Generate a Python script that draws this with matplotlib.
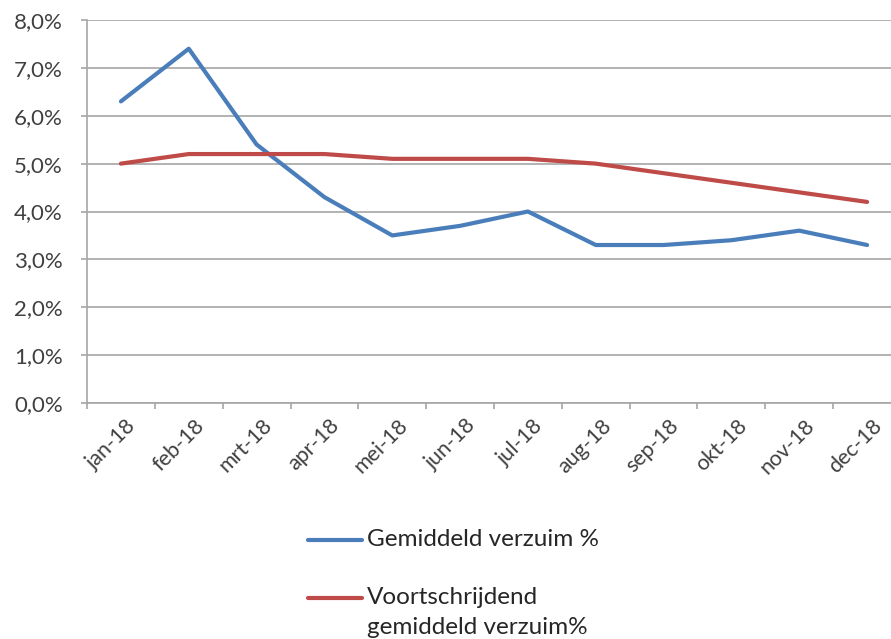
import matplotlib
matplotlib.use("Agg")
import matplotlib.pyplot as plt
from matplotlib.lines import Line2D
from matplotlib.ticker import FuncFormatter, MultipleLocator
from matplotlib.transforms import ScaledTranslation

months = ["jan-18", "feb-18", "mrt-18", "apr-18", "mei-18", "jun-18",
          "jul-18", "aug-18", "sep-18", "okt-18", "nov-18", "dec-18"]
gemiddeld = [6.3, 7.4, 5.4, 4.3, 3.5, 3.7, 4.0, 3.3, 3.3, 3.4, 3.6, 3.3]
voortschrijdend = [5.0, 5.2, 5.2, 5.2, 5.1, 5.1, 5.1, 5.0, 4.8, 4.6, 4.4, 4.2]
series_labels = ["Gemiddeld verzuim %", "Voortschrijdend\ngemiddeld verzuim%"]
series_colors = ["#4A7EBB", "#BE4B48"]

plt.rcParams["font.family"] = ["Lato", "DejaVu Sans"]
text_color = "#404040"
grid_color = "#A6A6A6"

fig = plt.figure(figsize=(8.91, 6.39), dpi=100)
W, H = 891, 639
left, right, top, bottom = 87, 901, 20, 403
ax = fig.add_axes([left / W, 1 - bottom / H, (right - left) / W, (bottom - top) / H])

x = list(range(len(months)))
lines = []
for vals, col, lab in zip([gemiddeld, voortschrijdend], series_colors, series_labels):
    ln, = ax.plot(x, vals, color=col, lw=3.0, solid_joinstyle="round",
                  solid_capstyle="round", label=lab)
    lines.append(ln)

ax.set_xlim(-0.5, len(months) - 0.5)
ax.set_ylim(0, 8)
ax.yaxis.set_major_locator(MultipleLocator(1))
ax.yaxis.set_major_formatter(FuncFormatter(lambda v, p: f"{v:.1f}%".replace(".", ",")))
ax.grid(axis="y", color=grid_color, lw=1.2)
ax.set_axisbelow(True)

# category ticks sit between the months
ax.set_xticks([i - 0.5 for i in range(len(months) + 1)], minor=False)
ax.set_xticklabels([])
ax.set_xticks(x, minor=True)
ax.set_xticklabels(months, minor=True, rotation=45, ha="right", va="top",
                   rotation_mode="anchor", fontsize=15.5, color=text_color)
ax.tick_params(axis="x", which="minor", length=0, pad=9)
ax.tick_params(axis="x", which="major", length=4.5, color=grid_color, width=1.2)
ax.tick_params(axis="y", length=4.5, color=grid_color, width=1.2, labelsize=16,
               labelcolor=text_color, pad=13)
for lab in ax.get_xticklabels(minor=True):
    lab.set_transform(lab.get_transform() + ScaledTranslation(5 / 100, 0, fig.dpi_scale_trans))

for s in ["top", "right"]:
    ax.spines[s].set_visible(False)
for s in ["left", "bottom"]:
    ax.spines[s].set_color(grid_color)
    ax.spines[s].set_linewidth(1.2)

# legend below the plot: handle aligned with the first text line of each entry
legend_rows = [540, 598]
line_step = 29
for ln, ypix in zip(lines, legend_rows):
    yf = 1 - ypix / H
    fig.add_artist(Line2D([308 / W, 362 / W], [yf, yf], color=ln.get_color(),
                          lw=3.0, solid_capstyle="round"))
    for k, part in enumerate(ln.get_label().split("\n")):
        fig.text(367 / W, 1 - (ypix + k * line_step) / H, part, fontsize=17.5,
                 color="#262626", va="center", ha="left")

fig.savefig("out.png", dpi=100)
